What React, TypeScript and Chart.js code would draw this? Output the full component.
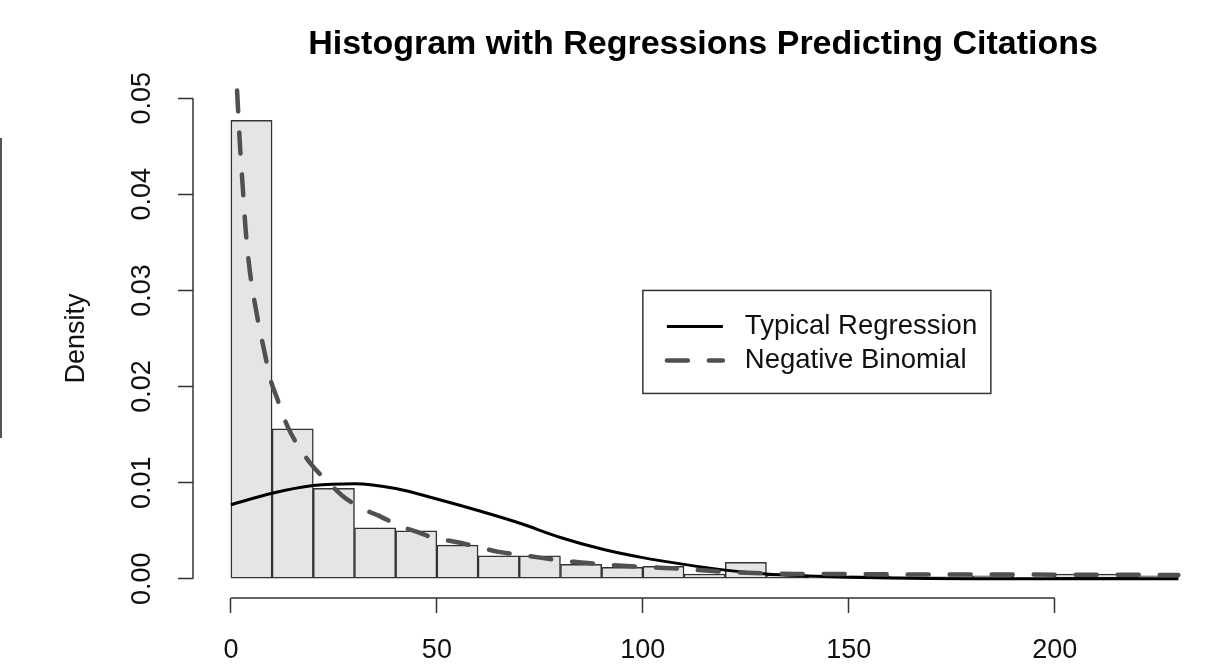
import React, { useEffect, useRef } from "react";
import { Chart, registerables } from "chart.js";

Chart.register(...registerables);

const FONT = '"Liberation Sans", Arial, Helvetica, sans-serif';

// Histogram: bin starts (width 10) and densities
const binStarts = [0, 10, 20, 30, 40, 50, 60, 70, 80, 90, 100, 110, 120, 130, 140, 150, 160, 170, 180, 190, 200, 210, 220];
const binWidth = 10;
const densities = [0.0477, 0.0156, 0.0094, 0.0053, 0.005, 0.0035, 0.0024, 0.0024, 0.0015, 0.0012, 0.0013, 0.0005, 0.0017, 0.0004, 0.0002, 0.0003, 0.0002, 0.0002, 0.0003, 0.0001, 0.0005, 0.0005, 0.0003];

// Typical regression (normal) curve
const typicalX = [0, 10, 20, 30, 40, 50, 60, 70, 80, 90, 100, 110, 120, 130, 140, 150, 160, 170, 180, 190, 200, 210, 220, 230];
const typicalY = [0.0077, 0.0089, 0.0097, 0.0099, 0.0094, 0.0083, 0.0071, 0.0058, 0.0043, 0.0031, 0.0022, 0.0015, 0.0009, 0.0005, 0.0003, 0.00015, 0.00007, 0.00003, 0.00001, 0, 0, 0, 0, 0];

// Negative binomial curve
const negBinX = [1.5, 2.2, 2.9, 3.6, 4.6, 6.3, 8.3, 9.5, 11.2, 13.8, 16.7, 19.7, 23.5, 26.9, 31.8, 35.7, 41, 45, 49, 55, 60, 65, 70, 75, 80, 85, 90, 97, 107, 117, 127, 137, 148, 158, 168, 178, 188, 200, 210, 220, 230];
const negBinY = [0.0508, 0.0451, 0.0406, 0.0362, 0.032, 0.0275, 0.0233, 0.0209, 0.0188, 0.0158, 0.0136, 0.0118, 0.0101, 0.0087, 0.0073, 0.0066, 0.0055, 0.0049, 0.0043, 0.0038, 0.0033, 0.0028, 0.0025, 0.0022, 0.0019, 0.0017, 0.0015, 0.0013, 0.0011, 0.0008, 0.0006, 0.0005, 0.0005, 0.00047, 0.00045, 0.00045, 0.00044, 0.00043, 0.00042, 0.00041, 0.0004];

// Axis ticks
const xTickValues = [0, 50, 100, 150, 200];
const yTickValues = [0, 0.01, 0.02, 0.03, 0.04, 0.05];

const seriesLabels = ["Typical Regression", "Negative Binomial"];
const chartTitle = "Histogram with Regressions Predicting Citations";
const yTitle = "Density";

const rAxesPlugin = {
  id: "rAxes",
  afterDraw(chart: any) {
    const { ctx, chartArea, scales } = chart;
    const x = scales.x;
    const y = scales.y;
    ctx.save();
    ctx.strokeStyle = "#333";
    ctx.lineWidth = 1.5;
    ctx.beginPath();
    const xt = x.ticks;
    ctx.moveTo(x.getPixelForValue(xt[0].value), chartArea.bottom);
    ctx.lineTo(x.getPixelForValue(xt[xt.length - 1].value), chartArea.bottom);
    const yt = y.ticks;
    ctx.moveTo(chartArea.left, y.getPixelForValue(yt[0].value));
    ctx.lineTo(chartArea.left, y.getPixelForValue(yt[yt.length - 1].value));
    ctx.stroke();
    ctx.restore();
  },
};

const rLegendPlugin = {
  id: "rLegend",
  afterDraw(chart: any, _args: any, opts: any) {
    const { ctx, scales } = chart;
    const left = scales.x.getPixelForValue(opts.xValue);
    const top = scales.y.getPixelForValue(opts.yValue);
    ctx.save();
    ctx.fillStyle = "#fff";
    ctx.fillRect(left, top, opts.width, opts.height);
    ctx.strokeStyle = "#333";
    ctx.lineWidth = 1.5;
    ctx.strokeRect(left, top, opts.width, opts.height);
    const lines = chart.data.datasets.filter((d: any) => d.type === "line");
    lines.forEach((ds: any, i: number) => {
      const cy = top + opts.firstRow + i * opts.rowGap;
      ctx.beginPath();
      ctx.strokeStyle = ds.borderColor;
      ctx.lineWidth = ds.borderWidth;
      ctx.setLineDash(ds.borderDash || []);
      ctx.lineCap = ds.borderCapStyle || "butt";
      ctx.moveTo(left + opts.lineStart, cy);
      ctx.lineTo(left + opts.lineEnd, cy);
      ctx.stroke();
      ctx.setLineDash([]);
      ctx.fillStyle = "#111";
      ctx.font = `27.5px ${FONT}`;
      ctx.textBaseline = "middle";
      ctx.textAlign = "left";
      ctx.fillText(ds.label, left + opts.textStart, cy);
    });
    ctx.restore();
  },
};

export default function App() {
  const canvasRef = useRef<HTMLCanvasElement | null>(null);

  useEffect(() => {
    if (!canvasRef.current) return;
    const barData = binStarts.map((s, i) => ({ x: s + binWidth / 2, y: densities[i] }));
    const typData = typicalX.map((x, i) => ({ x, y: typicalY[i] }));
    const nbData = negBinX.map((x, i) => ({ x, y: negBinY[i] }));

    const chart = new Chart(canvasRef.current, {
      type: "bar",
      data: {
        datasets: [
          {
            type: "line",
            label: seriesLabels[0],
            data: typData,
            borderColor: "#000",
            borderWidth: 3,
            pointRadius: 0,
            cubicInterpolationMode: "monotone",
            fill: false,
            order: 2,
          } as any,
          {
            type: "line",
            label: seriesLabels[1],
            data: nbData,
            borderColor: "#505050",
            borderWidth: 4.5,
            borderDash: [21, 21],
            borderCapStyle: "round",
            pointRadius: 0,
            cubicInterpolationMode: "monotone",
            fill: false,
            order: 1,
          } as any,
          {
            type: "bar",
            label: "Histogram",
            data: barData,
            backgroundColor: "#e5e5e5",
            borderColor: "#333",
            borderWidth: 1.5,
            borderSkipped: false,
            barPercentage: 1,
            categoryPercentage: 1,
            order: 3,
          } as any,
        ],
      },
      options: {
        responsive: false,
        animation: false,
        events: [],
        layout: { padding: 0 },
        plugins: {
          legend: { display: false },
          tooltip: { enabled: false },
          title: {
            display: true,
            text: chartTitle,
            fullSize: false,
            color: "#000",
            font: { family: FONT, size: 34, weight: "bold" },
            padding: { top: 24.5, bottom: 13.7 },
          },
          rLegend: {
            xValue: 100,
            yValue: 0.03,
            width: 348,
            height: 103,
            firstRow: 36,
            rowGap: 34,
            lineStart: 24,
            lineEnd: 80,
            textStart: 102,
          },
        } as any,
        scales: {
          x: {
            type: "linear",
            min: -9.2,
            max: 238.4,
            offset: false,
            afterBuildTicks: (s: any) => {
              s.ticks = xTickValues.map((v) => ({ value: v }));
            },
            afterFit: (s: any) => {
              s.height = 66;
            },
            border: { display: false },
            grid: {
              offset: false,
              drawOnChartArea: false,
              drawTicks: true,
              tickLength: 15,
              tickWidth: 1.5,
              tickColor: "#333",
            },
            ticks: {
              maxRotation: 0,
              autoSkip: false,
              padding: 21,
              color: "#111",
              font: { family: FONT, size: 27 },
              callback: (v: any) => String(v),
            },
          },
          y: {
            type: "linear",
            min: -0.002,
            max: 0.052,
            afterBuildTicks: (s: any) => {
              s.ticks = yTickValues.map((v) => ({ value: v }));
            },
            afterFit: (s: any) => {
              s.width = 193;
            },
            border: { display: false },
            grid: {
              drawOnChartArea: false,
              drawTicks: true,
              tickLength: 15,
              tickWidth: 1.5,
              tickColor: "#333",
            },
            title: {
              display: true,
              text: yTitle,
              color: "#111",
              font: { family: FONT, size: 27 },
              padding: { top: 60, bottom: 0 },
            },
            ticks: {
              minRotation: 90,
              maxRotation: 90,
              autoSkip: false,
              crossAlign: "center",
              padding: 9,
              color: "#111",
              font: { family: FONT, size: 27 },
              callback: (v: any) => Number(v).toFixed(2),
            },
          },
        },
      },
      plugins: [rAxesPlugin, rLegendPlugin],
    });
    return () => chart.destroy();
  }, []);

  return (
    <div style={{ position: "absolute", left: 0, top: 0, width: 1213, height: 664, background: "#fff" }}>
      <div style={{ position: "absolute", left: 0, top: 138, width: 2, height: 300, background: "#555" }} />
      <canvas ref={canvasRef} width={1213} height={664} style={{ display: "block", width: 1213, height: 664 }} />
    </div>
  );
}
